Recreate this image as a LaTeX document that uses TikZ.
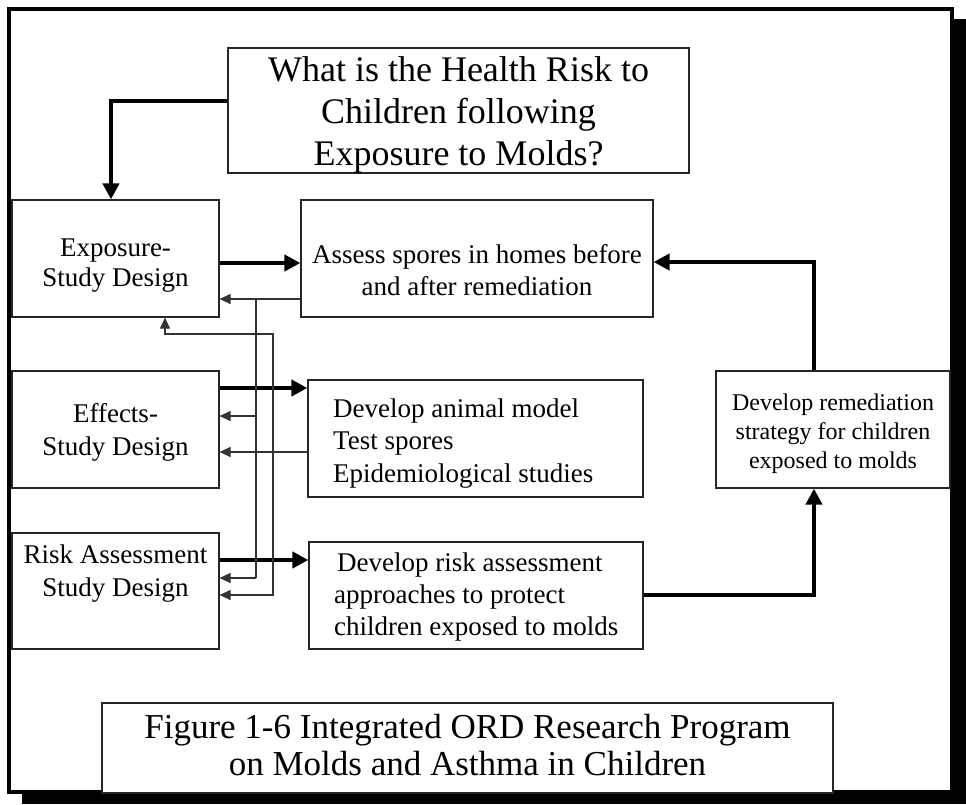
\documentclass[tikz,border=0pt]{standalone}
\usepackage{fontspec}
\setmainfont{Liberation Serif}
\usetikzlibrary{arrows.meta}
\begin{document}
\begin{tikzpicture}[x=1pt,y=-1pt,
  box/.style={draw=black!85, line width=1.2pt, fill=white, inner sep=0pt},
  txt/.style={inner sep=0pt, align=center, font=\fontsize{27}{31}\selectfont},
  ltxt/.style={inner sep=0pt, anchor=west, align=left, font=\fontsize{27}{32}\selectfont},
  thickarr/.style={line width=4pt, -{Triangle[length=16pt,width=16pt]}},
  thinarr/.style={draw=black!80, line width=1.1pt, -{Triangle[length=11pt,width=10pt]}},
  thinboth/.style={draw=black!80, line width=1.1pt, {Triangle[length=11pt,width=10pt]}-{Triangle[length=11pt,width=10pt]}},
  thinline/.style={draw=black!80, line width=1.1pt}]
\useasboundingbox (0,0) rectangle (966,804);
% frame with shadow
\fill[black] (22,19) rectangle (966,804);
\draw[line width=3.5pt, fill=white] (9,9) rectangle (952,792);

% boxes
\node[box, minimum width=461pt, minimum height=125pt] (title) at (458.5,110.5) {};
\node[box, minimum width=207pt, minimum height=117pt] (expo) at (115.5,258.5) {};
\node[box, minimum width=352pt, minimum height=117pt] (assess) at (477,258.5) {};
\node[box, minimum width=207pt, minimum height=117pt] (effects) at (115.5,429.5) {};
\node[box, minimum width=335pt, minimum height=117pt] (animal) at (475.5,438.5) {};
\node[box, minimum width=207pt, minimum height=116pt] (risk) at (115.5,591) {};
\node[box, minimum width=334pt, minimum height=107pt] (devrisk) at (476,595.5) {};
\node[box, minimum width=234pt, minimum height=117pt] (remed) at (833,429.5) {};
\node[box, minimum width=731pt, minimum height=90pt] (caption) at (467.5,748) {};

% texts
\node[txt, font=\fontsize{36}{42}\selectfont] (titlet) at (458.5,114.5)
  {What is the Health Risk to\\Children following\\Exposure to Molds?};
\node[txt, font=\fontsize{27}{30}\selectfont] (expot) at (115.5,265.5) {Exposure-\\Study Design};
\node[txt, font=\fontsize{27}{32}\selectfont] (assesst) at (477,270.5)
  {Assess spores in homes before\\and after remediation};
\node[txt, font=\fontsize{27}{33}\selectfont] (effectst) at (115.5,432) {Effects-\\Study Design};
\node[ltxt, font=\fontsize{27}{32.5}\selectfont] (animalt) at (333,443.5)
  {Develop animal model\\Test spores\\Epidemiological studies};
\node[txt, font=\fontsize{27}{33}\selectfont] (riskt) at (115.5,574) {Risk Assessment\\Study Design};
\node[ltxt] (devriskt) at (334,597)
  {\hspace*{3pt}Develop risk assessment\\approaches to protect\\children exposed to molds};
\node[txt, font=\fontsize{24}{29}\selectfont] (remedt) at (833,433.5)
  {Develop remediation\\strategy for children\\exposed to molds};
\node[txt, font=\fontsize{35}{37}\selectfont] (captiont) at (467.5,745)
  {Figure 1-6 Integrated ORD Research Program\\on Molds and Asthma in Children};

% junction coordinates
\coordinate (ja) at (256,299);
\coordinate (jb) at (256,416);
\coordinate (jc) at (256,578);
\coordinate (jd) at (273,595);
\coordinate (je) at (273,334);
\coordinate (jf) at (165,334);
\coordinate (jg) at (814,595);
\coordinate (jh) at (814,262);

% thick connectors
\draw[thickarr] (title.west |- 0,101) -| (111,0 |- expo.north);
\draw[thickarr] (expo.east |- 0,263) -- (assess.west |- 0,263);
\draw[thickarr] (effects.east |- 0,388) -- (animal.west |- 0,388);
\draw[thickarr] (risk.east |- 0,560) -- (devrisk.west |- 0,560);
\draw[thickarr] (devrisk.east |- jg) -- (jg) -- (jg |- remed.south);
\draw[thickarr] (jh |- remed.north) -- (jh) -- (assess.east |- jh);

% thin connectors
\draw[thinarr] (assess.west |- ja) -- (expo.east |- ja);
\draw[thinline] (ja) -- (jc);
\draw[thinarr] (jb) -- (effects.east |- jb);
\draw[thinarr] (jc) -- (risk.east |- jc);
\draw[thinarr] (animal.west |- 0,452) -- (effects.east |- 0,452);
\draw[thinboth] (risk.east |- jd) -- (jd) -- (je) -- (jf) -- (jf |- expo.south);
\end{tikzpicture}
\end{document}
